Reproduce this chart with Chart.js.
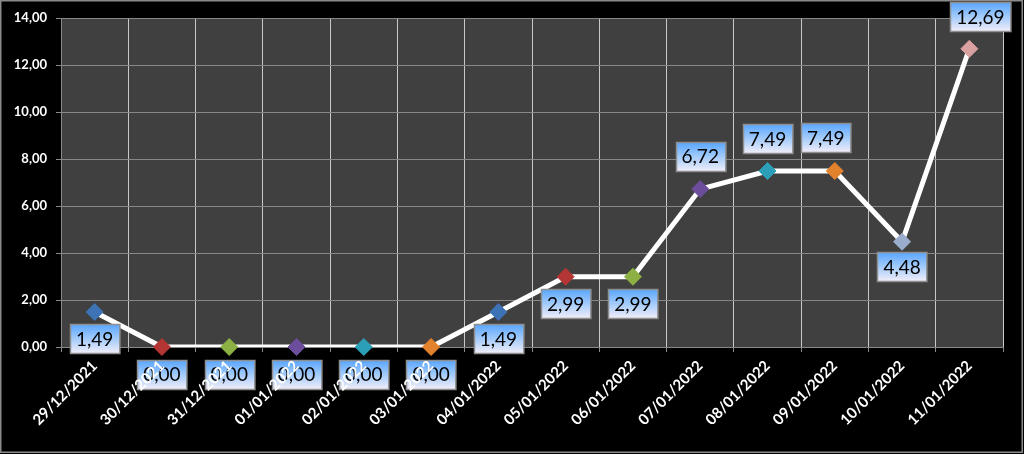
<!DOCTYPE html>
<html>
<head>
<meta charset="utf-8">
<script src="https://cdn.jsdelivr.net/npm/chart.js@4"></script>
<style>
  html, body { margin: 0; padding: 0; background: #000; }
  canvas { display: block; }
</style>
</head>
<body>
<canvas id="priceChart" width="1024" height="454"></canvas>
<script>
// Dates on the x axis
const dates = [
    '29/12/2021', '30/12/2021', '31/12/2021', '01/01/2022', '02/01/2022',
    '03/01/2022', '04/01/2022', '05/01/2022', '06/01/2022', '07/01/2022',
    '08/01/2022', '09/01/2022', '10/01/2022', '11/01/2022'
];

// Values
const values = [1.49, 0, 0, 0, 0, 0, 1.49, 2.99, 2.99, 6.72, 7.49, 7.49, 4.48, 12.69];

// Y axis range
const yMin = 0;
const yMax = 14;
const yStep = 2;

// Marker colours, one per point (Excel style palette)
const markerColors = [
    '#3d72b4', '#b33634', '#8cb043', '#6c4d9b', '#2c9fb8', '#e3822c',
    '#3d72b4', '#b33634', '#8cb043', '#6c4d9b', '#2c9fb8', '#e3822c',
    '#9aadcc', '#d9a19f'
];

// Where each value box sits relative to its point
const labelDy = [27, 27, 27, 27, 27, 27, 27, 27, 27, -33, -32, -33, 25, -32];
const labelDx = [0, 0, 0, 0, 0, 0, 0, 0, 0, 0, 0, -9, 0, 11];

function fmt(v) {
    return v.toFixed(2).replace('.', ',');
}

// Black background with thin grey frame
const framePlugin = {
    id: 'frame',
    beforeDraw(chart) {
        const ctx = chart.ctx;
        ctx.save();
        ctx.fillStyle = '#000';
        ctx.fillRect(0, 0, chart.width, chart.height);
        ctx.fillStyle = '#404040';
        const a = chart.chartArea;
        ctx.fillRect(a.left, a.top, a.right - a.left, a.bottom - a.top);
        ctx.strokeStyle = '#8a8a8a';
        ctx.lineWidth = 1.5;
        ctx.strokeRect(0.75, 0.75, chart.width - 2.5, chart.height - 2.5);
        ctx.restore();
    }
};

// Value boxes with blue gradient
const valueBoxPlugin = {
    id: 'valueBoxes',
    afterDatasetsDraw(chart) {
        const ctx = chart.ctx;
        const meta = chart.getDatasetMeta(0);
        ctx.save();
        ctx.font = '19px Lato, "Open Sans", sans-serif';
        ctx.textAlign = 'center';
        ctx.textBaseline = 'middle';
        meta.data.forEach((pt, i) => {
            const text = fmt(values[i]);
            const w = ctx.measureText(text).width + 12;
            const h = 29;
            const cx = pt.x + labelDx[i];
            const cy = pt.y + labelDy[i];
            const x0 = Math.round(cx - w / 2) + 0.5;
            const y0 = Math.round(cy - h / 2) + 0.5;
            const grad = ctx.createLinearGradient(0, y0, 0, y0 + h);
            grad.addColorStop(0, '#5aa6ff');
            grad.addColorStop(0.45, '#9cc8fb');
            grad.addColorStop(1, '#f3eef9');
            ctx.fillStyle = grad;
            ctx.fillRect(x0, y0, w, h);
            ctx.strokeStyle = '#8f8f8f';
            ctx.lineWidth = 1.5;
            ctx.strokeRect(x0, y0, w, h);
            ctx.fillStyle = '#000';
            ctx.fillText(text, cx, cy + 1);
        });
        ctx.restore();
    }
};

const ctx = document.getElementById('priceChart').getContext('2d');
const priceChart = new Chart(ctx, {
    type: 'line',
    data: {
        labels: dates,
        datasets: [
            {
                // markers on top, never clipped
                data: values,
                showLine: false,
                order: 0,
                clip: false,
                pointStyle: 'rectRot',
                pointRadius: 8.5,
                pointBackgroundColor: markerColors,
                pointBorderColor: markerColors,
                pointBorderWidth: 1
            },
            {
                // white line, clipped at the bottom of the plot like Excel
                data: values,
                order: 1,
                borderColor: '#ffffff',
                borderWidth: 5,
                tension: 0,
                pointRadius: 0,
                borderCapStyle: 'round',
                clip: { left: 10, top: 10, right: 10, bottom: 0 }
            }
        ]
    },
    options: {
        responsive: false,
        animation: false,
        events: [],
        layout: {
            padding: { top: 18, right: 21, left: 0, bottom: 0 }
        },
        plugins: {
            legend: { display: false },
            tooltip: { enabled: false }
        },
        scales: {
            x: {
                offset: true,
                grid: {
                    offset: true,
                    color: '#c8c8c8',
                    lineWidth: 1,
                    tickLength: 5,
                    tickColor: '#8a8a8a'
                },
                border: { color: '#8a8a8a', width: 1 },
                ticks: {
                    z: 1,
                    color: '#ffffff',
                    minRotation: 45,
                    maxRotation: 45,
                    autoSkip: false,
                    padding: 5,
                    font: { family: 'Lato, "Open Sans", sans-serif', size: 15, weight: 'bold' }
                },
                afterFit(scale) {
                    scale.height = 454 - 347;
                    scale.paddingLeft = 0;
                    scale.paddingRight = 0;
                }
            },
            y: {
                min: yMin,
                max: yMax,
                grid: {
                    color: '#888888',
                    lineWidth: 1,
                    tickLength: 5,
                    tickColor: '#8a8a8a'
                },
                border: { color: '#8a8a8a', width: 1 },
                ticks: {
                    stepSize: yStep,
                    color: '#ffffff',
                    padding: 9,
                    font: { family: 'Lato, "Open Sans", sans-serif', size: 13, weight: 'bold' },
                    callback: function(value) {
                        return fmt(value);
                    }
                },
                afterFit(scale) {
                    scale.width = 61;
                    scale.paddingTop = 0;
                    scale.paddingBottom = 0;
                }
            }
        }
    },
    plugins: [framePlugin, valueBoxPlugin]
});
</script>
</body>
</html>
